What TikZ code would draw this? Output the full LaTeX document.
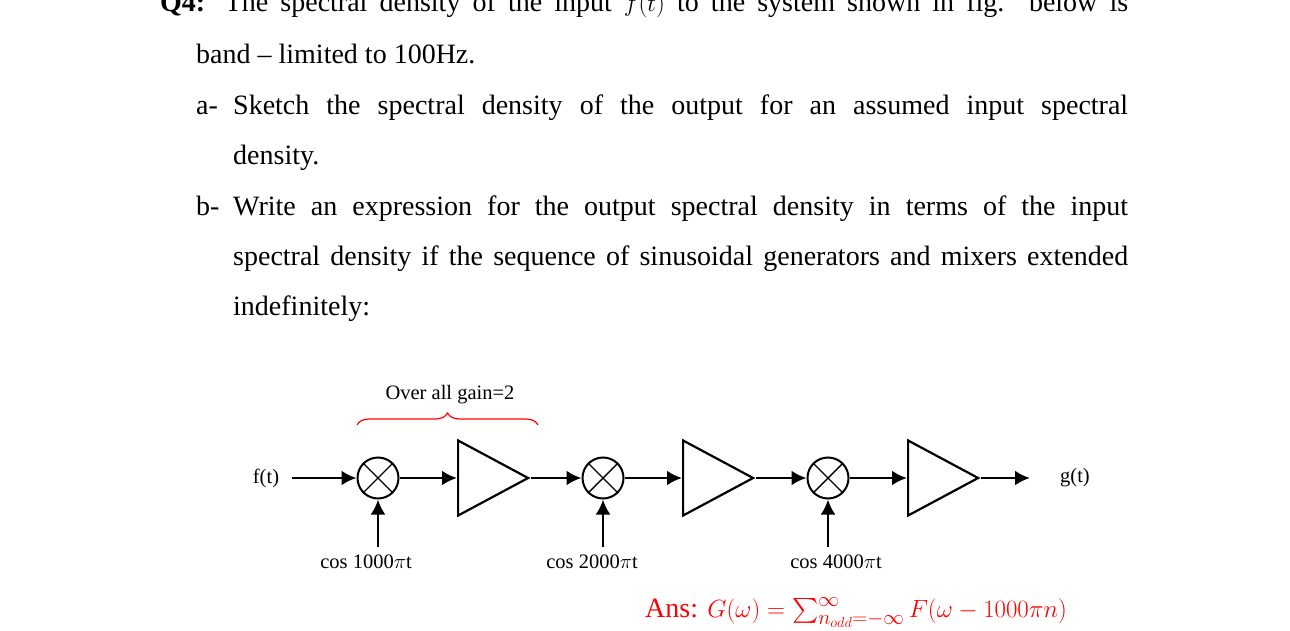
\documentclass[tikz,border=0pt]{standalone}
\usepackage{amsmath}
\usepackage{fontspec}
\setmainfont{Liberation Serif}
\usetikzlibrary{shapes.geometric,arrows.meta,decorations.pathreplacing}
\begin{document}
\begin{tikzpicture}[x=1pt,y=-1pt,
  body/.style={anchor=base west,inner sep=0pt,font=\fontsize{28}{32}\selectfont},
  lab/.style={inner sep=0pt,font=\fontsize{20.5}{24}\selectfont},
  mix/.style={draw,circle,line width=2pt,minimum size=41pt,inner sep=0pt},
  amp/.style={draw,isosceles triangle,isosceles triangle stretches,line width=2.2pt,minimum height=70pt,minimum width=75pt,inner sep=0pt,anchor=west},
  sig/.style={line width=2.8pt,-{Latex[length=15pt,width=15pt]}}]
\path[use as bounding box,clip] (0,0) rectangle (1290,631);
\node[body] (q1) at (160,12) {\makebox[968pt][s]{\textbf{Q4:} The spectral density of the input $f(t)$ to the system shown in fig. below is}};
\node[body] (q2) at (196,64) {band -- limited to 100Hz.};
\node[body] (a0) at (196,115) {a-};
\node[body] (a1) at (233,115) {\makebox[895pt][s]{Sketch the spectral density of the output for an assumed input spectral}};
\node[body] (a2) at (233,165) {density.};
\node[body] (b0) at (196,215) {b-};
\node[body] (b1) at (233,215) {\makebox[895pt][s]{Write an expression for the output spectral density in terms of the input}};
\node[body] (b2) at (233,265) {\makebox[895pt][s]{spectral density if the sequence of sinusoidal generators and mixers extended}};
\node[body] (b3) at (233,315) {indefinitely:};

\node[lab] (f) at (266,478) {f(t)};
\node[lab] (g) at (1075,478) {g(t)};
\coordinate (fs) at (292,478);
\coordinate (ge) at (1030,478);
\foreach \i/\x/\ax/\fq/\cx in {1/378/457/1000/366,2/603/682/2000/592,3/828/907/4000/836}{
  \node[mix] (m\i) at (\x,478) {};
  \draw[line width=1.4pt] (m\i.north west) -- (m\i.south east) (m\i.north east) -- (m\i.south west);
  \node[amp] (a\i) at (\ax,478) {};
  \node[lab] (c\i) at (\cx,562) {cos \fq$\pi$t};
  \coordinate (s\i) at (\x,547);
  \draw[sig] (s\i) -- (m\i.south);
  \draw[sig] (m\i.east) -- (a\i.west);
}
\draw[sig] (fs) -- (m1.west);
\draw[sig] (a1.east) -- (m2.west);
\draw[sig] (a2.east) -- (m3.west);
\draw[sig] (a3.east) -- (ge);
\node[lab] (ov) at (450,395) {Over all gain=2};
\coordinate (br1) at (357,425);
\coordinate (br2) at (538,425);
\draw[red,line width=1.2pt,decorate,decoration={brace,amplitude=12pt}] (br1) -- (br2);
\node[body,text=red] (ans) at (645,617) {Ans: $G(\omega)=\textstyle\sum\nolimits_{n_{odd}=-\infty}^{\infty}F(\omega-1000\pi n)$};
\end{tikzpicture}
\end{document}
